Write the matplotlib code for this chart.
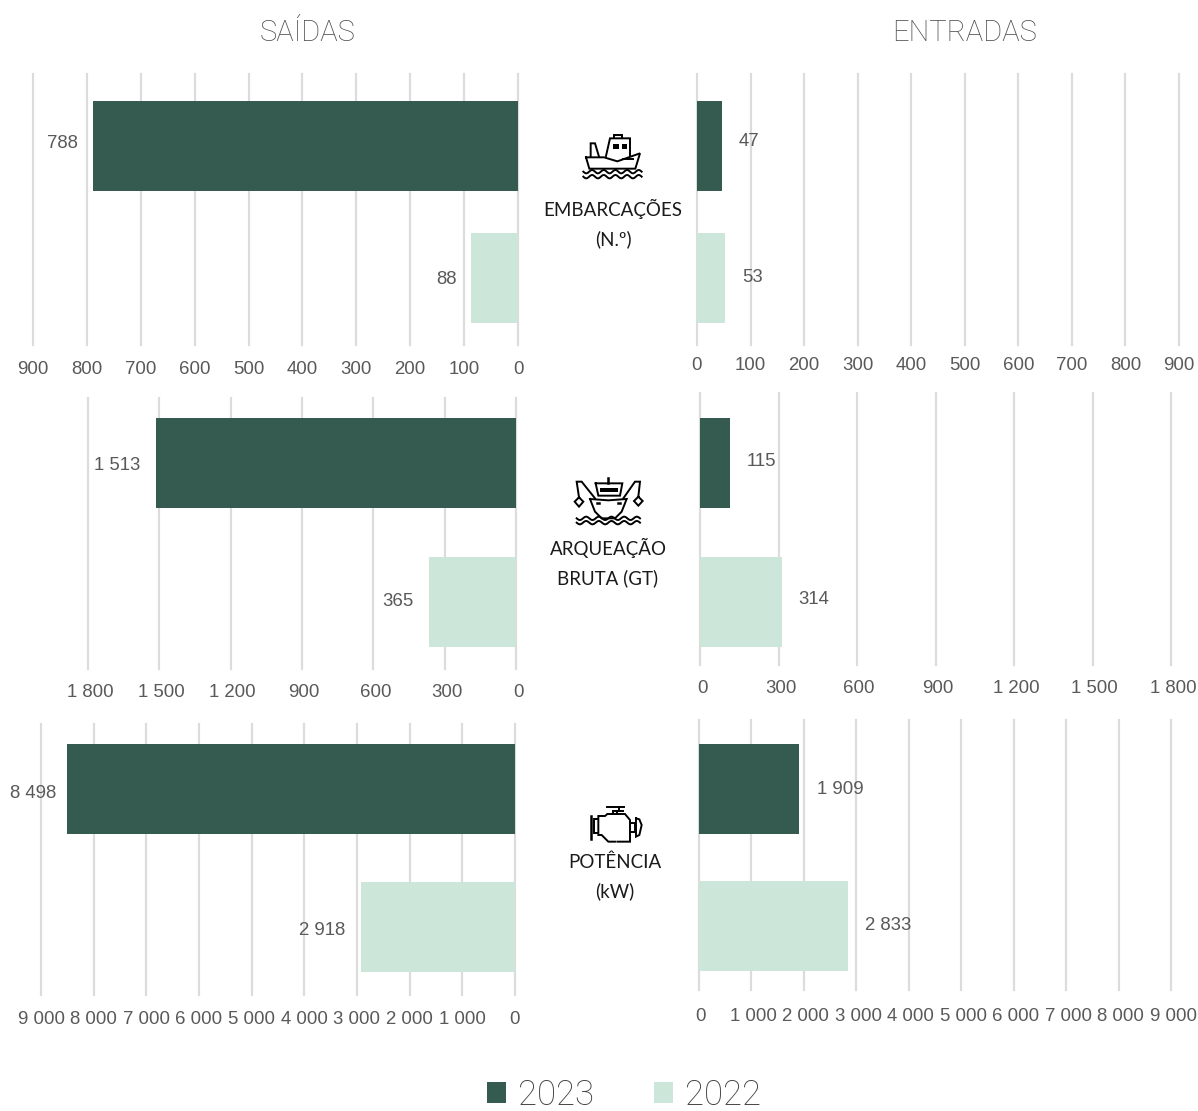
import numpy as np
import matplotlib
matplotlib.use("Agg")
import matplotlib.pyplot as plt
from matplotlib.transforms import ScaledTranslation

W, H = 1198, 1111

# data
years = ["2023", "2022"]
saidas = {"2023": [788, 1513, 8498], "2022": [88, 365, 2918]}
entradas = {"2023": [47, 115, 1909], "2022": [53, 314, 2833]}
ticks_row = [
    [0, 100, 200, 300, 400, 500, 600, 700, 800, 900],
    [0, 300, 600, 900, 1200, 1500, 1800],
    [0, 1000, 2000, 3000, 4000, 5000, 6000, 7000, 8000, 9000],
]
row_names = ["EMBARCAÇÕES\n(N.º)", "ARQUEAÇÃO\nBRUTA (GT)", "POTÊNCIA\n(kW)"]

DARK = "#355a50"
LIGHT = "#cde6da"
GRID = "#dcdcdc"
GREY = "#595959"
colors = {"2023": DARK, "2022": LIGHT}

# layout in pixels: left, right, top, bottom of each panel + bar centres
left_boxes = [(33, 518, 74, 345, 146, 278), (88, 516, 398, 669, 463, 602), (41, 515, 724, 995, 789, 927)]
right_boxes = [(697, 1179, 74, 345, 146, 278), (700, 1171, 393, 665, 463, 602), (699, 1171, 720, 990, 789, 926)]
left_pads = [(-15, 2), (-16, -3), (-11, -5), (-14, -2), (-16, 0), (-16, -4)]
right_pads = [(16, 4), (17, 1), (18, -1), (17, 0), (16, 2), (17, 0)]
tick_pads_left = [11.5, 11, 11.5]
tick_pads_right = [8.5, 11, 13]
tick_shift_left = [0, 2, 0]
tick_shift_right = [0, 2, 2]

fig = plt.figure(figsize=(W / 100, H / 100), dpi=100)
plt.rcParams["font.family"] = ["Liberation Sans", "DejaVu Sans"]
thin_font = ["Roboto", "DejaVu Sans"]


def make_panel(box, row, side, pad_y, shift, offsets):
    l, r, t, b, c1, c2 = box
    ax = fig.add_axes([l / W, 1 - b / H, (r - l) / W, (b - t) / H])
    step = c2 - c1
    ax.set_ylim((b - c1) / step, (t - c1) / step)
    vmax = ticks_row[row][-1]
    ax.set_xlim(vmax, 0) if side == "left" else ax.set_xlim(0, vmax)
    ax.set_xticks(ticks_row[row])
    ax.set_xticklabels([f"{v:,}".replace(",", " ") for v in ticks_row[row]])
    ax.tick_params(axis="x", length=0, pad=pad_y, labelsize=13.4, labelcolor=GREY)
    for lab in ax.get_xticklabels():
        lab.set_transform(lab.get_transform() + ScaledTranslation(shift / 100, 0, fig.dpi_scale_trans))
    ax.set_yticks([])
    for s in ax.spines.values():
        s.set_visible(False)
    ax.set_axisbelow(True)
    ax.grid(axis="x", color=GRID, lw=1.6)
    for g in ax.get_xgridlines():
        g.set_clip_on(False)
    data = saidas if side == "left" else entradas
    for i, year in enumerate(years):
        v = data[year][row]
        ax.barh(i, v, height=90 / step, color=colors[year], label=year)
        dx, dy = offsets[i * 3 + row]
        ax.annotate(f"{v:,}".replace(",", " "), (v, i), xytext=(dx, dy), textcoords="offset pixels",
                    ha="right" if side == "left" else "left", va="center", fontsize=13.4, color=GREY)
    return ax


for row in range(3):
    ax = make_panel(left_boxes[row], row, "left", tick_pads_left[row], tick_shift_left[row], left_pads)
    make_panel(right_boxes[row], row, "right", tick_pads_right[row], tick_shift_right[row], right_pads)

handles, labels = ax.get_legend_handles_labels()
fig.legend(handles, labels, loc="center", bbox_to_anchor=(624 / W, 1 - 1095 / H), ncol=2, frameon=False,
           handlelength=0.55, handleheight=0.55, handletextpad=0.35, columnspacing=1.7,
           prop={"family": thin_font, "size": 25, "weight": "light"}, labelcolor="#404040")

# overlay for headings and icons, in pixel coordinates
ov = fig.add_axes([0, 0, 1, 1], zorder=5)
ov.set_xlim(0, W)
ov.set_ylim(H, 0)
ov.axis("off")
for x, name in [(308, "SAÍDAS"), (965, "ENTRADAS")]:
    ov.text(x, 33, name, ha="center", va="center", fontsize=21, color="#4d4d4d",
            family=thin_font, weight="light")
for (x, y), name in zip([(613, 224), (608, 563), (615, 877)], row_names):
    ov.text(x, y, name, ha="center", va="center", fontsize=13.5, color="#1a1a1a", linespacing=1.75,
            family=["Lato", "DejaVu Sans"])


def path(ox, oy, pts, lw=1.4, fill=False):
    xs = [ox + p[0] / 3 for p in pts]
    ys = [oy + p[1] / 3 for p in pts]
    if fill:
        ov.fill(xs, ys, color="black", lw=0)
    else:
        ov.plot(xs, ys, color="black", lw=lw, solid_joinstyle="miter")


def wave(ox, oy, x0, x1, y, n=5):
    t = np.linspace(0, 1, 120)
    xs = x0 + (x1 - x0) * t
    path(ox, oy, list(zip(xs, y + 5 * np.sin(t * n * 2 * np.pi))), lw=1.4)


# boat
ox, oy = 530, 120
path(ox, oy, [(168, 112), (222, 112), (262, 124), (330, 100), (316, 146), (178, 146), (168, 112)])
path(ox, oy, [(228, 108), (240, 55), (300, 55), (300, 105)])
path(ox, oy, [(252, 55), (252, 44), (275, 44), (275, 55)])
path(ox, oy, [(250, 72), (266, 72), (266, 87), (250, 87)], fill=True)
path(ox, oy, [(276, 72), (290, 72), (290, 87), (276, 87)], fill=True)
path(ox, oy, [(182, 110), (182, 70), (195, 70), (207, 110)])
for x in [280, 292, 304]:
    path(ox, oy, [(x, 117), (x + 4, 117)])
wave(ox, oy, 160, 335, 155)
wave(ox, oy, 160, 335, 170)

# trawler
ox, oy = 530, 465
path(ox, oy, [(180, 102), (235, 106), (290, 102), (275, 140), (255, 160), (215, 160), (195, 140), (180, 102)])
path(ox, oy, [(197, 55), (277, 55), (270, 92), (205, 92), (197, 55)])
path(ox, oy, [(210, 68), (265, 68), (265, 80), (210, 80)], fill=True)
path(ox, oy, [(235, 38), (235, 55)], lw=1.8)
path(ox, oy, [(195, 100), (155, 50), (140, 50), (147, 97)])
path(ox, oy, [(280, 100), (315, 50), (330, 50), (325, 95)])
path(ox, oy, [(147, 97), (160, 110), (147, 125), (134, 110), (147, 97)])
path(ox, oy, [(325, 95), (338, 108), (325, 122), (312, 108), (325, 95)])
path(ox, oy, [(200, 115), (206, 115)], lw=1.8)
path(ox, oy, [(265, 115), (271, 115)], lw=1.8)
wave(ox, oy, 140, 330, 160)
wave(ox, oy, 140, 330, 173)

# engine
ox, oy = 530, 790
path(ox, oy, [(255, 155), (235, 155), (215, 135), (205, 135), (205, 78), (225, 78), (232, 72), (285, 72), (300, 90), (300, 155), (262, 155)])
path(ox, oy, [(205, 88), (192, 88), (192, 130), (205, 130)])
path(ox, oy, [(183, 78), (183, 146)], lw=1.8)
path(ox, oy, [(250, 72), (250, 62), (268, 62), (268, 50), (232, 50)])
path(ox, oy, [(262, 72), (262, 62), (280, 62)])
path(ox, oy, [(268, 50), (282, 50)])
path(ox, oy, [(300, 100), (315, 100), (315, 125), (300, 125)])
path(ox, oy, [(318, 85), (328, 88), (335, 105), (328, 135), (318, 140), (318, 85)])

fig.savefig("out.png", dpi=100)
